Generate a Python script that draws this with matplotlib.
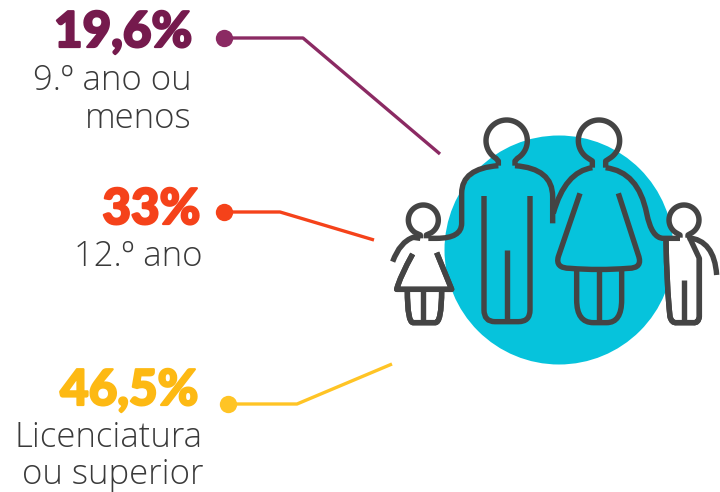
import numpy as np
import matplotlib
matplotlib.use('Agg')
import matplotlib.pyplot as plt
import matplotlib.patheffects as pe
from matplotlib.patches import Circle, PathPatch
from matplotlib.path import Path

values = ['19,6%', '33%', '46,5%']
labels = [['9.º ano ou', 'menos'], ['12.º ano'], ['Licenciatura', 'ou superior']]
value_colors = ['#751A4D', '#F5421A', '#FDB913']
line_colors = ['#8B2A63', '#F5421A', '#FFC425']
leaders = [[(224, 38), (303, 38), (440, 154)],
           [(224, 212), (280, 212), (374, 240)],
           [(228, 404), (297, 404), (392, 364)]]
value_pos = [(192, 47), (200, 224), (198, 405)]
label_pos = [[(192, 90), (192, 128)], [(203, 266)], [(203, 447), (203, 484)]]

ICON = '#444444'

fig = plt.figure(figsize=(7.2, 4.92), dpi=100)
ax = fig.add_axes([0, 0, 1, 1])
ax.set_xlim(0, 720)
ax.set_ylim(492, 0)
ax.axis('off')


def px(p):
    return (p[0] / 3 + 380, p[1] / 3 + 100)


def stroke(start, *segs, fill='none', z=3):
    verts = [px(start)]
    codes = [Path.MOVETO]
    for s in segs:
        if len(s) == 1:
            verts.append(px(s[0]))
            codes.append(Path.LINETO)
        else:
            verts += [px(s[0]), px(s[1])]
            codes += [Path.CURVE3, Path.CURVE3]
    ax.add_patch(PathPatch(Path(verts, codes), facecolor=fill, edgecolor=ICON,
                           lw=3.9, capstyle='butt', joinstyle='round', zorder=z))


def head(cx, cy, r, half_neck, neck_y, bottom):
    # open ring with a neck gap
    t = np.linspace(np.pi / 2 - 0.55, np.pi / 2 + 0.55 - 2 * np.pi, 60)
    pts = [(cx + r * np.cos(v), cy + r * np.sin(v)) for v in t]
    pts = [(cx + half_neck, bottom), (cx + half_neck, neck_y)] + pts + [(cx - half_neck, neck_y), (cx - half_neck, bottom)]
    xy = [px(p) for p in pts]
    ax.plot([p[0] for p in xy], [p[1] for p in xy], color=ICON, lw=3.9,
            solid_capstyle='butt', solid_joinstyle='round', zorder=3)


ax.add_patch(Circle((559, 250), 114.5, facecolor='#06C3DC', edgecolor='none', zorder=1))

# white fills for the children
stroke((98, 462), ((60, 530), (50, 568)), ((215, 568),), ((170, 458),), fill='white', z=2)
stroke((82, 570), ((82, 670), (100, 668)), ((165, 668),), ((185, 670), (185, 570)), fill='white', z=2)
stroke((858, 418), ((860, 560), (870, 650)), ((875, 670), (890, 668)), ((940, 668),), ((955, 670), (958, 650)), ((958, 475),), ((925, 405),), fill='white', z=2)

# father
head(380, 122, 62, 25, 183, 197)
stroke((405, 197), ((518, 205), (518, 290)), ((518, 370),))
stroke((355, 197), ((245, 205), (245, 280)), ((245, 370),), ((245, 415), (170, 415)), ((145, 415),))
stroke((312, 288), ((312, 630),), ((312, 665), (345, 665)), ((415, 665),), ((450, 665), (450, 630)), ((450, 288),))
stroke((380, 450), ((380, 665),))

# mother
head(657, 122, 62, 20, 183, 203)
stroke((677, 203), ((775, 215), (800, 340)), ((815, 415), (850, 415)), ((900, 415),))
stroke((637, 203), ((555, 215), (520, 340)))
stroke((600, 280), ((535, 470),), ((525, 505), (570, 505)), ((655, 512), (745, 505)), ((790, 505), (775, 465)), ((715, 280),))
stroke((590, 512), ((590, 600),), ((590, 668), (640, 668)), ((680, 668),), ((725, 668), (725, 600)), ((725, 512),))
stroke((657, 512), ((657, 668),))

# girl
head(130, 360, 45, 9, 405, 415)
stroke((121, 415), ((100, 412),), ((60, 425), (38, 485)))
stroke((98, 462), ((60, 530), (50, 568)), ((215, 568),), ((170, 458),))
stroke((82, 570), ((82, 670), (100, 668)), ((165, 668),), ((185, 670), (185, 570)))
stroke((130, 570), ((130, 668),))

# boy
head(912, 360, 45, 12, 405, 413)
stroke((924, 413), ((1003, 420), (1010, 525)))
stroke((858, 418), ((860, 560), (870, 650)), ((875, 670), (890, 668)), ((940, 668),), ((955, 670), (958, 650)), ((958, 475),))
stroke((912, 540), ((912, 668),))

# leaders and text
for i in range(3):
    xs = [p[0] for p in leaders[i]]
    ys = [p[1] for p in leaders[i]]
    ax.plot(xs, ys, color=line_colors[i], lw=2.4, solid_joinstyle='round', solid_capstyle='butt', zorder=2)
    ax.plot(xs[0], ys[0], 'o', color=line_colors[i], ms=12.5, mew=0, zorder=3)
    t = ax.text(value_pos[i][0], value_pos[i][1], values[i], color=value_colors[i], ha='right', va='baseline',
                fontsize=35.5, family='Lato', weight='black')
    t.set_path_effects([pe.withStroke(linewidth=1.6, foreground=value_colors[i])])
    for line, pos in zip(labels[i], label_pos[i]):
        ax.text(pos[0], pos[1], line, color='#3a3a3a', ha='right', va='baseline',
                fontsize=25, family='Open Sans', weight='light')

fig.savefig('out.png', dpi=100)
